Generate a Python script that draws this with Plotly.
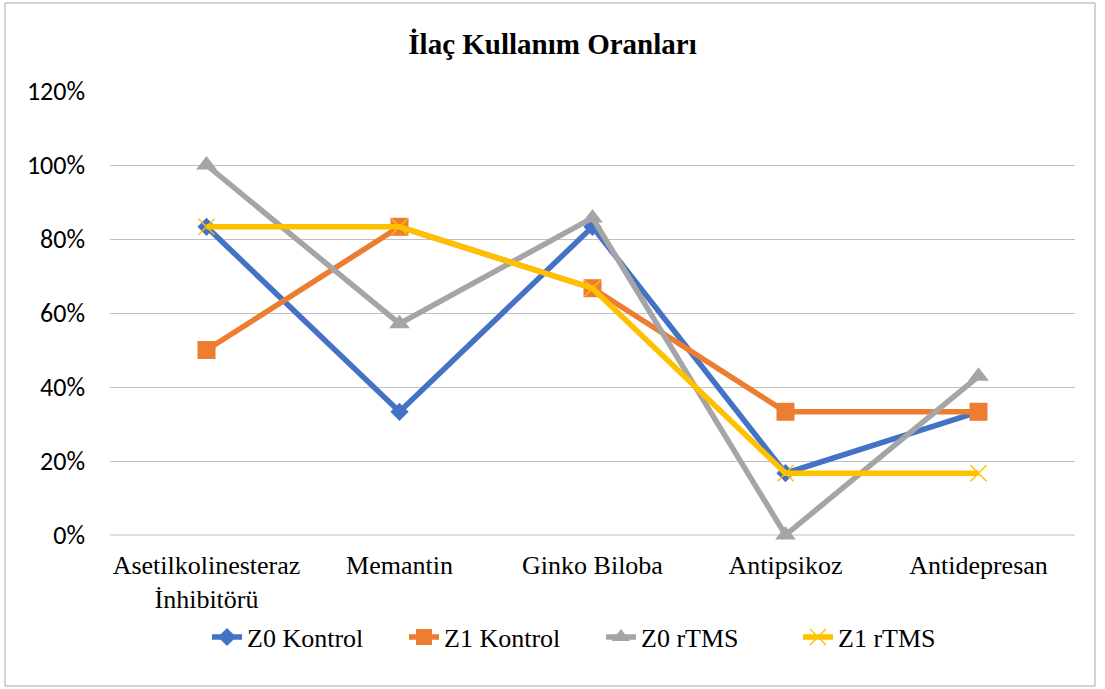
import plotly.graph_objects as go

categories = ["Asetilkolinesteraz<br>İnhibitörü", "Memantin", "Ginko Biloba", "Antipsikoz", "Antidepresan"]
z0_kontrol = [0.833, 0.333, 0.833, 0.167, 0.333]
z1_kontrol = [0.50, 0.833, 0.667, 0.333, 0.333]
z0_rtms = [1.00, 0.571, 0.857, 0.0, 0.429]
z1_rtms = [0.833, 0.833, 0.667, 0.167, 0.167]
series_names = ["Z0 Kontrol", "Z1 Kontrol", "Z0 rTMS", "Z1 rTMS"]
y_ticks = [0, 0.2, 0.4, 0.6, 0.8, 1.0, 1.2]

fig = go.Figure()
styles = [
    (z0_kontrol, "#4472C4", dict(symbol="diamond", size=14, color="#4472C4")),
    (z1_kontrol, "#ED7D31", dict(symbol="square", size=18, color="#ED7D31")),
    (z0_rtms, "#A5A5A5", dict(symbol="triangle-up", size=18, color="#A5A5A5")),
    (z1_rtms, "#FFC000", dict(symbol="x-thin-open", size=16, color="#FFC000", line=dict(color="#FFC000", width=1.5))),
]
for name, (vals, col, mk) in zip(series_names, styles):
    fig.add_trace(go.Scatter(
        x=list(range(len(categories))), y=vals, name=name, mode="lines+markers",
        line=dict(color=col, width=5.5), marker=mk, cliponaxis=False,
    ))

fig.update_layout(
    width=1105, height=689,
    margin=dict(l=110, r=30, t=91, b=154),
    paper_bgcolor="white", plot_bgcolor="white",
    title=dict(text="<b>İlaç Kullanım Oranları</b>", x=0.5, xanchor="center", y=1 - 44 / 689, yanchor="middle",
               font=dict(family="Liberation Serif", size=29, color="black")),
    xaxis=dict(tickmode="array", tickvals=list(range(len(categories))), ticktext=categories,
               range=[-0.5, 4.5], showgrid=False, zeroline=False, showline=False, ticks="",
               ticklabelstandoff=12,
               tickfont=dict(family="Liberation Serif", size=26, color="black")),
    yaxis=dict(range=[0, 1.2], tickvals=y_ticks, tickformat=".0%", showgrid=True, gridcolor="#BFBFBF",
               gridwidth=1, zeroline=False, showline=False, ticks="", ticklabelstandoff=24,
               tickfont=dict(family="Carlito, Liberation Sans", size=26, color="black")),
    legend=dict(orientation="h", x=(207 - 110) / 965, xanchor="left", y=-0.23, yanchor="middle",
                entrywidth=152, entrywidthmode="pixels",
                font=dict(family="Liberation Serif", size=26, color="black")),
    showlegend=True,
)
fig.add_shape(type="line", xref="paper", yref="paper", x0=0, x1=1, y0=0, y1=0,
              line=dict(color="#BFBFBF", width=1), layer="below")
fig.add_shape(type="rect", xref="paper", yref="paper",
              x0=(5 - 110) / 965, x1=(1095 - 110) / 965, y0=(535 - 686) / 444, y1=(535 - 3) / 444,
              line=dict(color="#A6A6A6", width=1), fillcolor="rgba(0,0,0,0)")

fig.write_html("out.html", config={"displayModeBar": False},
               post_script="document.body.style.margin='0';")
